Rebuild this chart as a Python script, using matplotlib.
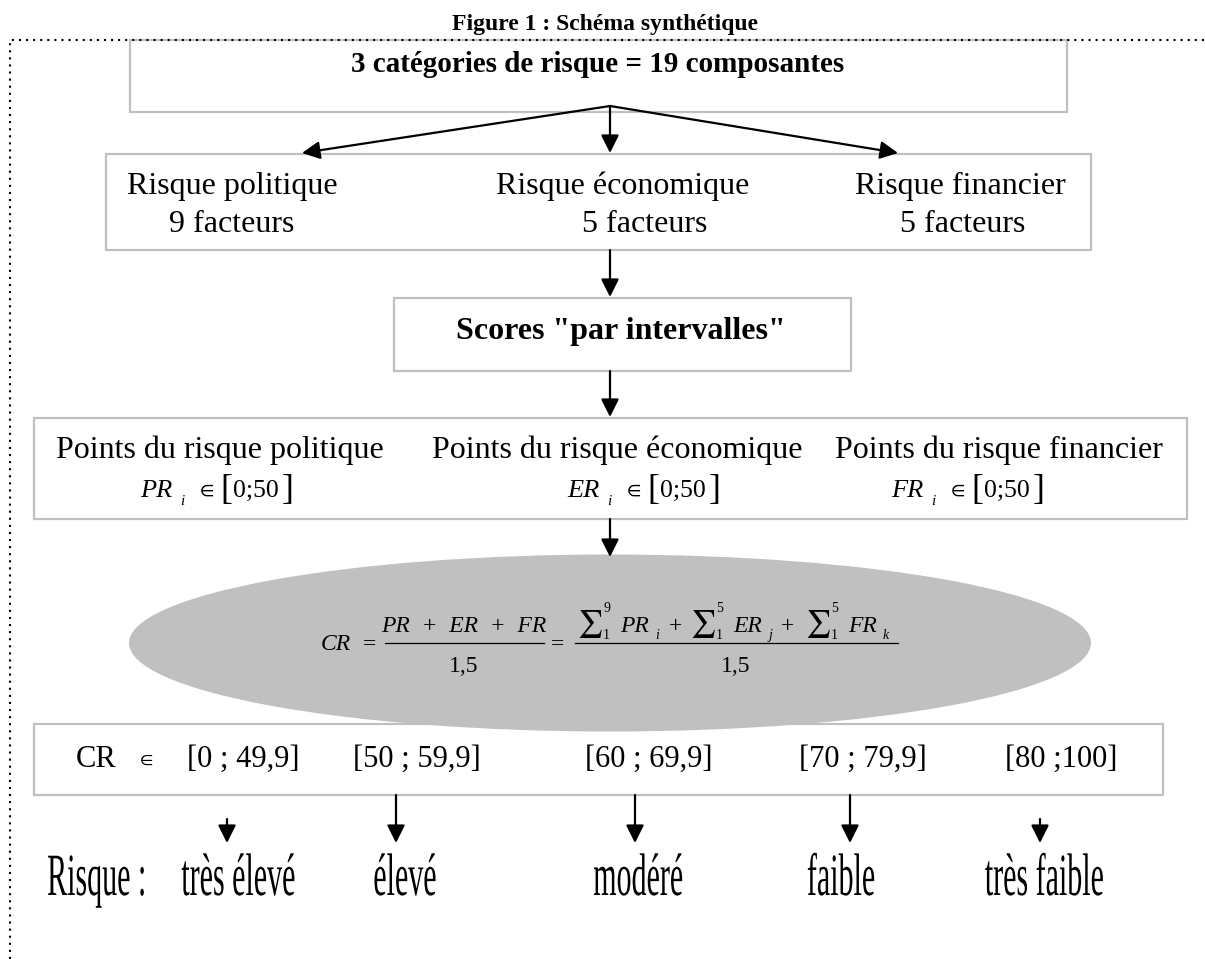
import matplotlib
matplotlib.use("Agg")
import matplotlib.pyplot as plt
from matplotlib.patches import Rectangle, Ellipse, PathPatch
from matplotlib.textpath import TextPath
from matplotlib.font_manager import FontProperties
from matplotlib.transforms import Affine2D

plt.rcParams['font.family'] = ['Liberation Serif', 'DejaVu Serif']
plt.rcParams['mathtext.fontset'] = 'stix'

# content of the diagram
title = "Figure 1 : Schéma synthétique"
n_categories = 3
n_components = 19
categories = ["Risque politique", "Risque économique", "Risque financier"]
n_factors = [9, 5, 5]
points_labels = ["Points du risque politique", "Points du risque économique",
                 "Points du risque financier"]
symbols = ["PR", "ER", "FR"]
indices = ["i", "j", "k"]
score_range = [0, 50]
divisor = "1,5"
intervals = ["[0 ; 49,9]", "[50 ; 59,9]", "[60 ; 69,9]", "[70 ; 79,9]", "[80 ;100]"]
risk_levels = ["très élevé", "élevé", "modéré", "faible", "très faible"]

# layout (pixels, y downwards)
cat_x1 = [232, 623, 960]
cat_x2 = [232, 645, 963]
points_x = [220, 617, 999]
range_x = [140, 567, 891]
sum_x = [577, 690, 805]
interval_left = [187, 353, 585, 799, 1005]
arrow_x = [227, 396, 635, 850, 1040]
short_arrow = [True, False, False, False, True]
level_x = [238, 405, 638, 841, 1044]

GRAY = "#c0c0c0"

fig = plt.figure(figsize=(12.05, 9.59), dpi=100)
ax = fig.add_axes([0, 0, 1, 1])
ax.set_xlim(0, 1205)
ax.set_ylim(959, 0)
ax.axis('off')


def box(x0, y0, x1, y1, z=2):
    ax.add_patch(Rectangle((x0, y0), x1 - x0, y1 - y0, facecolor='white',
                           edgecolor=GRAY, lw=1.6, zorder=z))


def arrow(x0, y0, x1, y1):
    ax.annotate("", xy=(x1, y1), xytext=(x0, y0),
                arrowprops=dict(arrowstyle='-|>', color='black', lw=1.6,
                                mutation_scale=27, shrinkA=0, shrinkB=0),
                zorder=6)


def txt(x, y, s, fs, ha='left', style='normal', z=5):
    ax.text(x, y, s, ha=ha, va='baseline', fontsize=fs, fontstyle=style, zorder=z)


# title and dotted frame
ax.text(605, 30, title, ha='center', va='baseline', fontsize=17, fontweight='bold')
ax.plot([10, 10, 1205], [959, 40, 40], color='black', lw=1.5,
        linestyle=(0, (1, 2.4)), zorder=5)

# box 1
box(130, 40, 1067, 112)
ax.text(598, 72, f"{n_categories} catégories de risque = {n_components} composantes",
        ha='center', va='baseline', fontsize=21, fontweight='bold', zorder=3)

apex = (610, 106)
arrow(*apex, 302, 153)
arrow(*apex, 610, 153)
arrow(*apex, 898, 153)

# box 2
box(106, 154, 1091, 250)
for name, n, xa, xb in zip(categories, n_factors, cat_x1, cat_x2):
    txt(xa, 194, name, 23, ha='center', z=3)
    txt(xb, 232, f"{n} facteurs", 23, ha='center', z=3)

arrow(610, 250, 610, 297)

# box 3
box(394, 298, 851, 371)
ax.text(621, 339, 'Scores "par intervalles"', ha='center', va='baseline',
        fontsize=23, fontweight='bold', zorder=3)

arrow(610, 371, 610, 417)

# box 4
box(34, 418, 1187, 519)
for lab, sym, xp, xr in zip(points_labels, symbols, points_x, range_x):
    txt(xp, 458, lab, 23, ha='center', z=3)
    txt(xr, 497, sym, 19, style='italic', z=3)
    txt(xr + 40, 505, "i", 11, style='italic', z=3)
    txt(xr + 65, 496, r"$\in$", 15, ha='center', z=3)
    txt(xr + 80, 499, "[", 26, z=3)
    txt(xr + 93, 497, f"{score_range[0]};{score_range[1]}", 18.5, z=3)
    txt(xr + 142, 499, "]", 26, z=3)

arrow(610, 519, 610, 557)

# box 5 (under the ellipse)
box(34, 724, 1163, 795)
txt(76, 767, "CR", 22, z=3)
txt(145, 765, r"$\in$", 14, ha='center', z=3)
for iv, xl in zip(intervals, interval_left):
    txt(xl, 767, iv, 22, z=3)

# ellipse with the formula CR = (PR+ER+FR)/1,5
ax.add_patch(Ellipse((610, 643), 962, 177, facecolor=GRAY, edgecolor='none', zorder=4))
txt(321, 650, "CR", 17, style='italic')
txt(369, 650, "=", 17, ha='center')
txt(464, 632, "  +  ".join(symbols), 17, ha='center', style='italic')
ax.plot([385, 544], [643, 643], color='black', lw=0.9, zorder=5)
txt(464, 672, divisor, 17, ha='center')
txt(557, 650, "=", 17, ha='center')
for k, (xs, n, sym, idx) in enumerate(zip(sum_x, n_factors, symbols, indices)):
    txt(xs, 631, r"$\sum$", 20)
    txt(xs + 26, 612, str(n), 10)
    txt(xs + 26, 639, "1", 10)
    txt(xs + 43, 632, sym, 17, style='italic')
    txt(xs + 78, 639, idx, 10, style='italic')
    if k < len(sum_x) - 1:
        txt(xs + 98, 632, "+", 17, ha='center')
ax.plot([575, 898], [643, 643], color='black', lw=0.9, zorder=5)
txt(736, 672, divisor, 17, ha='center')

# bottom arrows and condensed labels
for xa, short in zip(arrow_x, short_arrow):
    arrow(xa, 819 if short else 795, xa, 843)

fp = FontProperties(family='Liberation Serif')
EM = 60
SX = 0.5
BASE = 895


def condensed(s, cx=None, left=None):
    tp = TextPath((0, 0), s, size=EM, prop=fp)
    ext = tp.get_extents()
    if left is not None:
        x0 = left - ext.x0 * SX
    else:
        x0 = cx - (ext.x0 + ext.width / 2) * SX
    tr = Affine2D().scale(SX, -1).translate(x0, BASE)
    ax.add_patch(PathPatch(tr.transform_path(tp), facecolor='black',
                           edgecolor='none', zorder=5))


condensed("Risque :", left=48)
for lvl, cx in zip(risk_levels, level_x):
    condensed(lvl, cx=cx)

fig.savefig("out.png", dpi=100)
